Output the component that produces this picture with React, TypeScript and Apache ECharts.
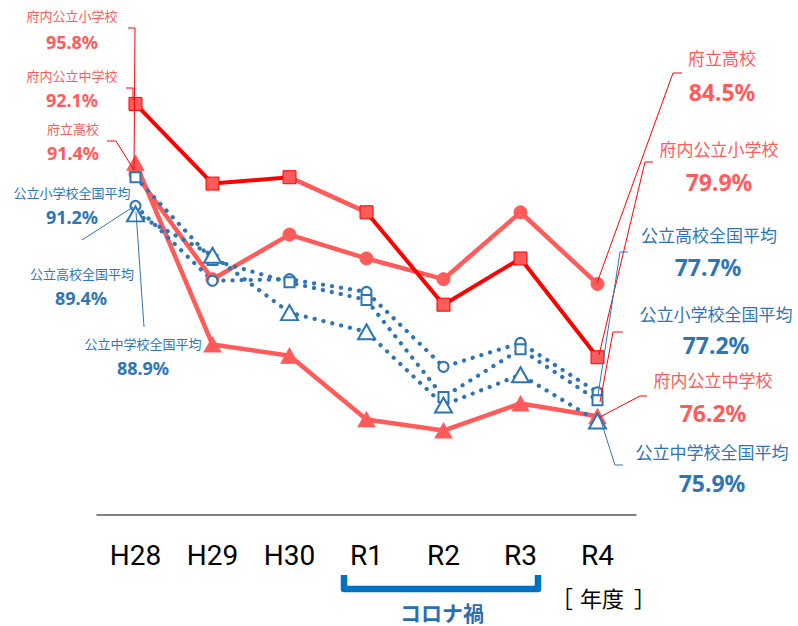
import React, { useEffect, useRef } from "react";
import * as echarts from "echarts";

const years = ["H28", "H29", "H30", "R1", "R2", "R3", "R4"];
// 府内公立小学校 (red squares)
const fuShougakko = [95.8, 90.8, 91.2, 89.0, 83.2, 86.1, 79.9];
// 府立高校 (salmon circles)
const fuKoukou = [91.4, 84.8, 87.6, 86.1, 84.8, 89.0, 84.5];
// 府内公立中学校 (salmon triangles)
const fuChugakko = [92.1, 80.7, 80.0, 76.0, 75.3, 77.0, 76.2];
// 公立高校全国平均 (blue hollow circles)
const zenKoukou = [89.4, 84.7, 84.8, 84.0, 79.3, 80.8, 77.7];
// 公立小学校全国平均 (blue hollow squares)
const zenShougakko = [91.2, 86.0, 84.6, 83.5, 77.4, 80.4, 77.2];
// 公立中学校全国平均 (blue hollow triangles)
const zenChugakko = [88.9, 86.3, 82.7, 81.5, 76.9, 78.8, 75.9];

const RED = "#FF0000";
const SALMON = "#FF5B5B";
const BLUE = "#2E75B6";
const JP = '"Noto Sans CJK JP", "Noto Sans", sans-serif';
const NUM = '"Noto Sans", "Noto Sans CJK JP", sans-serif';

const pct = (v: number) => `${v.toFixed(1)}%`;

function label(text: string, x: number, y: number, color: string, size: number, bold: boolean, family: string) {
  return {
    type: "text",
    x,
    y,
    z: 110,
    style: {
      text,
      fill: color,
      fontSize: size,
      fontWeight: bold ? "bold" : "normal",
      fontFamily: family,
      textAlign: "center",
      textVerticalAlign: "middle",
    },
  };
}

function leader(points: number[][], color: string) {
  return {
    type: "polyline",
    z: 100,
    shape: { points },
    style: { stroke: color, lineWidth: 1, fill: null },
  };
}

const last = years.length - 1;

export default function App() {
  const ref = useRef<HTMLDivElement>(null);
  useEffect(() => {
    document.body.style.margin = "0";
    const chart = echarts.init(ref.current!, null, { renderer: "svg" });
    const dotted = { type: [0.1, 9], cap: "round", width: 4.2, color: BLUE };
    const hollow = { color: "#fff", borderColor: BLUE, borderWidth: 2 };
    const solid = { color: SALMON, borderColor: SALMON, borderWidth: 1 };
    chart.setOption({
      animation: false,
      backgroundColor: "#fff",
      grid: { left: 97, right: 162, top: 37, bottom: 111 },
      xAxis: {
        type: "category",
        data: years,
        boundaryGap: true,
        axisLine: { lineStyle: { color: "#595959", width: 1.5 } },
        axisTick: { show: false },
        axisLabel: { fontSize: 28, color: "#000", margin: 26, fontFamily: "Roboto" },
      },
      yAxis: { type: "value", min: 70, max: 100, show: false, splitLine: { show: false } },
      series: [
        {
          name: "府内公立中学校",
          type: "line",
          data: fuChugakko,
          symbol: "triangle",
          symbolSize: [17, 15],
          lineStyle: { color: SALMON, width: 4.5 },
          itemStyle: solid,
        },
        {
          name: "府立高校",
          type: "line",
          data: fuKoukou,
          symbol: "circle",
          symbolSize: 13,
          lineStyle: { color: SALMON, width: 4.5 },
          itemStyle: solid,
        },
        {
          name: "府内公立小学校",
          type: "line",
          data: fuShougakko,
          symbol: "rect",
          symbolSize: 13,
          lineStyle: { color: RED, width: 4 },
          itemStyle: { color: SALMON, borderColor: RED, borderWidth: 1 },
        },
        {
          name: "府内公立小学校_seg",
          type: "line",
          data: fuShougakko.map((v, i) => (i === 2 || i === 3 ? v : null)),
          symbol: "none",
          lineStyle: { color: SALMON, width: 4.5 },
          connectNulls: false,
        },
        {
          name: "公立高校全国平均",
          type: "line",
          data: zenKoukou,
          symbol: "circle",
          symbolSize: 10,
          lineStyle: dotted,
          itemStyle: hollow,
        },
        {
          name: "公立小学校全国平均",
          type: "line",
          data: zenShougakko,
          symbol: "rect",
          symbolSize: 10,
          lineStyle: dotted,
          itemStyle: hollow,
        },
        {
          name: "公立中学校全国平均",
          type: "line",
          data: zenChugakko,
          symbol: "triangle",
          symbolSize: [17, 15],
          lineStyle: dotted,
          itemStyle: hollow,
        },
      ],
      graphic: [
        // left labels
        label("府内公立小学校", 72, 15, SALMON, 13, false, JP),
        label(pct(fuShougakko[0]), 72, 42, SALMON, 18, true, NUM),
        label("府内公立中学校", 72, 75, SALMON, 13, false, JP),
        label(pct(fuChugakko[0]), 72, 100, SALMON, 18, true, NUM),
        label("府立高校", 73, 128, SALMON, 13, false, JP),
        label(pct(fuKoukou[0]), 73, 153, SALMON, 18, true, NUM),
        label("公立小学校全国平均", 72, 192, BLUE, 13, false, JP),
        label(pct(zenShougakko[0]), 72, 217, BLUE, 18, true, NUM),
        label("公立高校全国平均", 82, 273, BLUE, 13, false, JP),
        label(pct(zenKoukou[0]), 81, 298, BLUE, 18, true, NUM),
        label("公立中学校全国平均", 143, 343, BLUE, 13, false, JP),
        label(pct(zenChugakko[0]), 143, 368, BLUE, 18, true, NUM),
        // right labels
        label("府立高校", 722, 57, SALMON, 17, false, JP),
        label(pct(fuKoukou[last]), 722, 92, SALMON, 23, true, NUM),
        label("府内公立小学校", 719, 148, SALMON, 17, false, JP),
        label(pct(fuShougakko[last]), 719, 182, SALMON, 23, true, NUM),
        label("公立高校全国平均", 709, 234, BLUE, 17, false, JP),
        label(pct(zenKoukou[last]), 708, 267, BLUE, 23, true, NUM),
        label("公立小学校全国平均", 716, 313, BLUE, 17, false, JP),
        label(pct(zenShougakko[last]), 716, 345, BLUE, 23, true, NUM),
        label("府内公立中学校", 713, 379, SALMON, 17, false, JP),
        label(pct(fuChugakko[last]), 713, 413, SALMON, 23, true, NUM),
        label("公立中学校全国平均", 712, 451, BLUE, 17, false, JP),
        label(pct(zenChugakko[last]), 712, 483, BLUE, 23, true, NUM),
        // leader lines left
        leader([[128, 28], [135, 28], [134, 170]], RED),
        leader([[126, 88], [133, 88], [133, 100]], RED),
        leader([[107, 141], [116, 141], [134, 170]], RED),
        leader([[82, 240], [133, 207]], BLUE),
        leader([[144, 327], [136, 212]], BLUE),
        // leader lines right
        leader([[682, 73], [673, 73], [597, 283]], RED),
        leader([[653, 162], [645, 162], [599, 355]], RED),
        leader([[623, 332], [613, 332], [600, 402]], RED),
        leader([[647, 396], [640, 396], [600, 417]], RED),
        leader([[628, 252], [620, 252], [598, 395]], BLUE),
        leader([[623, 465], [615, 465], [599, 415]], BLUE),
        // corona bracket
        {
          type: "polyline",
          z: 100,
          shape: { points: [[344, 575], [344, 589], [538, 589], [538, 575]] },
          style: { stroke: "#0070C0", lineWidth: 6.5, lineJoin: "round", fill: null },
        },
        label("コロナ禍", 442, 612, "#2E6DAD", 21, true, JP),
        label("［", 562, 597, "#000", 22, false, JP),
        label("年度", 602, 597, "#000", 22, false, JP),
        label("］", 645, 597, "#000", 22, false, JP),
      ],
    });
    return () => chart.dispose();
  }, []);
  return <div ref={ref} style={{ width: 798, height: 626 }} />;
}
